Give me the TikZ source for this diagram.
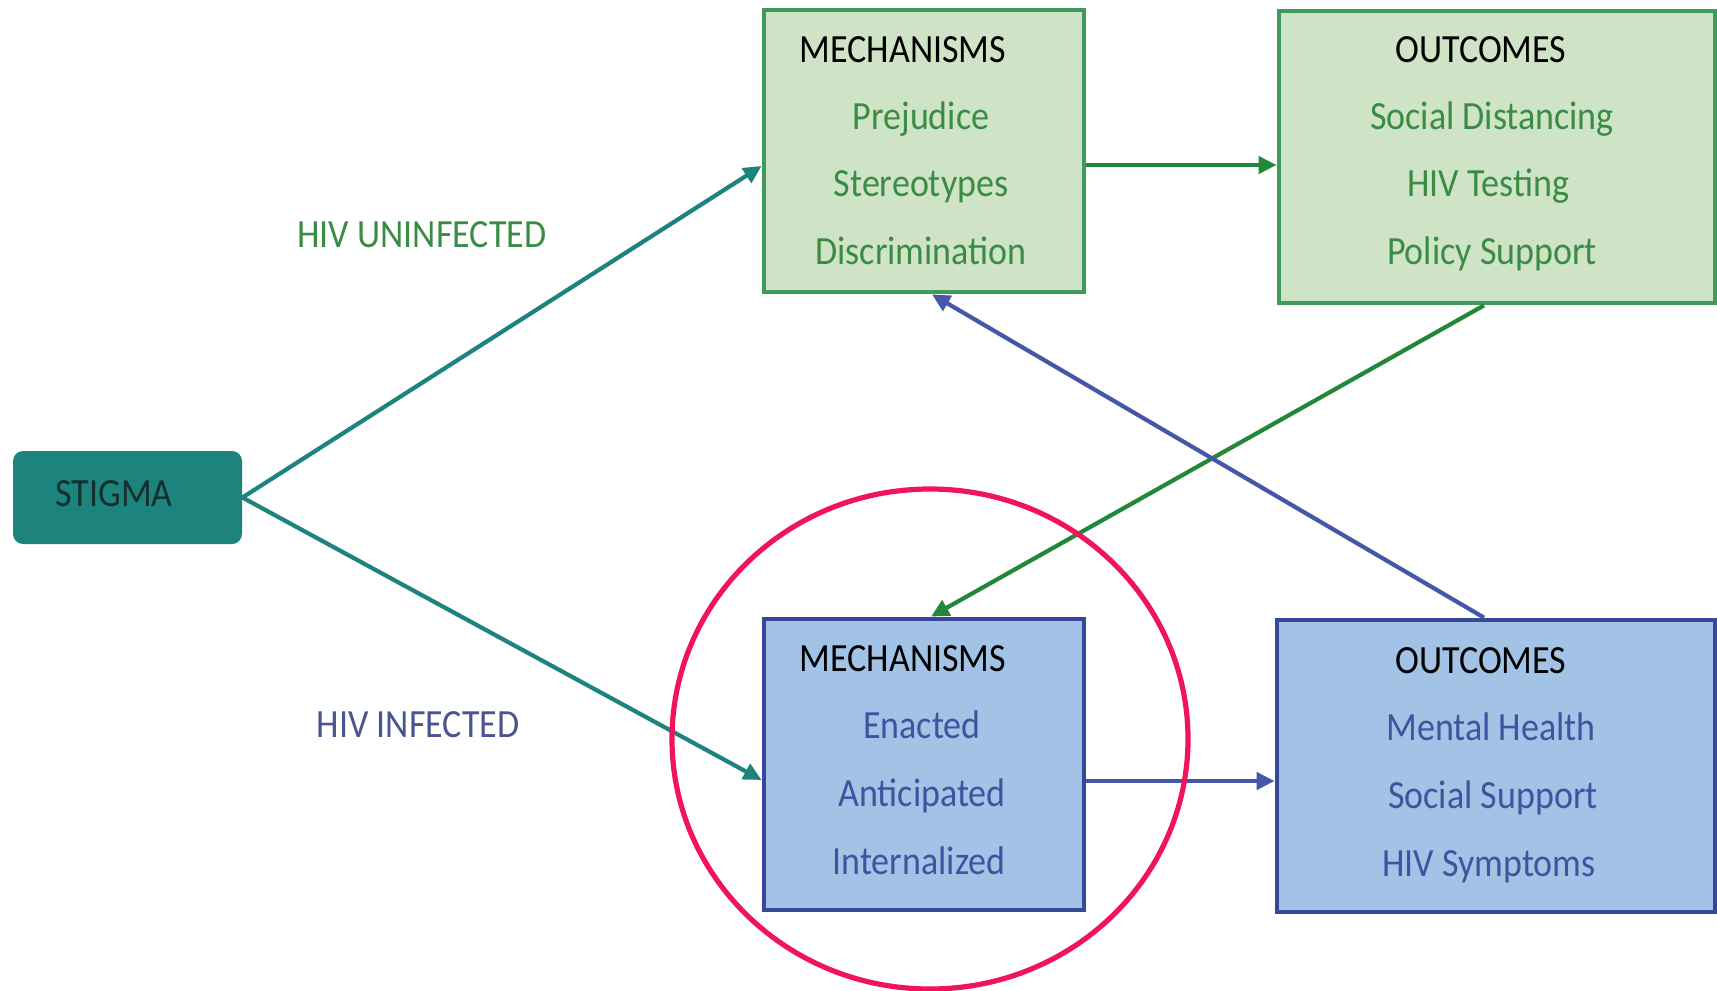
\documentclass[tikz,border=0pt]{standalone}
\usepackage{fontspec}
\setmainfont[FakeStretch=0.9]{Carlito}
\usepackage{xcolor}
\usetikzlibrary{arrows.meta, positioning, shapes.geometric}
\definecolor{hvteal}{HTML}{1D837D}
\definecolor{hvtealdark}{HTML}{14302E}
\definecolor{hvgreen}{HTML}{3A8C45}
\definecolor{hvgreenline}{HTML}{23873A}
\definecolor{hvgreenedge}{HTML}{3F9A5C}
\definecolor{hvgreenfill}{HTML}{CFE4C6}
\definecolor{hvblue}{HTML}{3B55A0}
\definecolor{hvblueline}{HTML}{4656A8}
\definecolor{hvblueedge}{HTML}{37479A}
\definecolor{hvbluefill}{HTML}{A2C3E6}
\definecolor{hvlabelblue}{HTML}{4A5590}
\definecolor{hvpink}{HTML}{F0145A}

\begin{document}
\begin{tikzpicture}[
  x=0.5pt, y=-0.5pt,
  txt/.style={inner sep=0pt, text height=12.9pt, text depth=0pt,
    font=\fontsize{20}{24}\selectfont},
  head/.style={txt, text=black},
  item/.style={txt, text=#1},
  panel/.style={rectangle, draw=#1edge, fill=#1fill, line width=2.4pt},
  link/.style={line width=2.1pt, draw=#1, -{Triangle[length=9pt, width=8.5pt]}},
]
  \useasboundingbox (0,0) rectangle (1717,990);

  % stigma
  \node[rectangle, fill=hvteal, rounded corners=5pt,
    minimum width=114.5pt, minimum height=46.5pt] (stigma) at (127.5,497.5) {};
  \node[txt, text=hvtealdark] (stigmat) at (114,494) {STIGMA};

  % uninfected branch
  \node[panel=hvgreen, minimum width=160pt, minimum height=141pt] (mechU) at (924,151) {};
  \node[head] (mechUt) at (903,50) {MECHANISMS};
  \node[item=hvgreen] (mechU1) at (921,117) {Prejudice};
  \node[item=hvgreen] (mechU2) at (921,184) {Stereotypes};
  \node[item=hvgreen] (mechU3) at (921,252) {Discrimination};

  \node[panel=hvgreen, minimum width=218pt, minimum height=146pt] (outU) at (1497,157) {};
  \node[head] (outUt) at (1481,50) {OUTCOMES};
  \node[item=hvgreen] (outU1) at (1492,117) {Social Distancing};
  \node[item=hvgreen] (outU2) at (1488,184) {HIV Testing};
  \node[item=hvgreen] (outU3) at (1492,252) {Policy Support};

  % infected branch
  \node[panel=hvblue, minimum width=160pt, minimum height=145.5pt] (mechI) at (924,764.5) {};
  \node[head] (mechIt) at (903,659) {MECHANISMS};
  \node[item=hvblue] (mechI1) at (922,726) {Enacted};
  \node[item=hvblue] (mechI2) at (922,794) {Anticipated};
  \node[item=hvblue] (mechI3) at (919,862) {Internalized};

  \node[panel=hvblue, minimum width=219pt, minimum height=146pt] (outI) at (1496,766) {};
  \node[head] (outIt) at (1481,661) {OUTCOMES};
  \node[item=hvblue] (outI1) at (1491,728) {Mental Health};
  \node[item=hvblue] (outI2) at (1493,796) {Social Support};
  \node[item=hvblue] (outI3) at (1489,864) {HIV Symptoms};

  % branch labels
  \node[item=hvgreen] (uninf) at (422,235) {HIV UNINFECTED};
  \node[item=hvlabelblue] (inf) at (418,725) {HIV INFECTED};

  \draw[link=hvteal] (stigma.east) -- ([yshift=-7.5pt]mechU.west);
  \draw[link=hvteal] (stigma.east) -- ([yshift=-7.75pt]mechI.west);
  \draw[link=hvgreenline] ([yshift=-7pt]mechU.east) -- ([yshift=-4pt]outU.west);
  \draw[link=hvblueline] ([yshift=-8.25pt]mechI.east) -- ([yshift=-7.5pt]outI.west);
  \draw[link=hvgreenline] ([xshift=-6.5pt]outU.south) -- ([xshift=3.5pt]mechI.north);
  \draw[link=hvblueline] ([xshift=-6pt]outI.north) -- ([xshift=4pt]mechU.south);

  \node[ellipse, draw=hvpink, line width=2.6pt, inner sep=0pt,
    minimum width=258pt, minimum height=250pt] (focus) at (930,739) {};
\end{tikzpicture}
\end{document}
